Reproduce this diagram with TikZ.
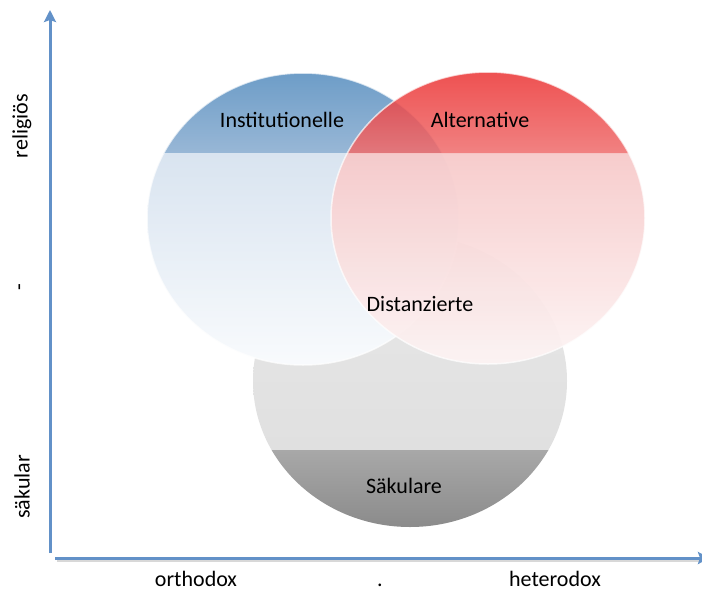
\documentclass[tikz,border=0pt]{standalone}
\usepackage{fontspec}
\setmainfont{Carlito}
\usetikzlibrary{arrows.meta}
\definecolor{axisblue}{RGB}{98,145,200}
\definecolor{blueA}{RGB}{108,156,199}
\definecolor{blueB}{RGB}{152,183,214}
\definecolor{blueC}{RGB}{217,228,240}
\definecolor{blueD}{RGB}{249,251,253}
\definecolor{redA}{RGB}{236,50,50}
\definecolor{redB}{RGB}{239,108,108}
\definecolor{redC}{RGB}{247,201,201}
\definecolor{redD}{RGB}{253,245,245}
\definecolor{grayA}{RGB}{232,232,232}
\definecolor{grayB}{RGB}{224,224,224}
\definecolor{grayC}{RGB}{168,168,168}
\definecolor{grayD}{RGB}{138,138,138}
\begin{document}
\begin{tikzpicture}[x=1pt,y=-1pt,
  lbl/.style={font=\fontsize{22}{26}\selectfont, inner sep=0pt, anchor=base},
  axis/.style={axisblue, line width=3pt, -{Stealth[length=12pt,width=12pt,inset=2pt]}},
  rim/.style={draw=white, line width=1.5pt, draw opacity=0.7}]
\useasboundingbox (0,0) rectangle (702,592);
\fill[white] (0,0) rectangle (702,592);

% gray circle (Saekulare)
\begin{scope}
  \clip (410,381) ellipse [x radius=157pt, y radius=146pt];
  \shade[top color=grayA, bottom color=grayB] (240,230) rectangle (580,450);
  \shade[top color=grayC, bottom color=grayD] (240,450) rectangle (580,530);
\end{scope}

% blue circle (Institutionelle)
\begin{scope}
  \clip (303,219) ellipse [x radius=156pt, y radius=146pt];
  \shade[top color=blueA, bottom color=blueB] (140,70) rectangle (470,153);
  \shade[top color=blueC, bottom color=blueD] (140,153) rectangle (470,368);
\end{scope}
\draw[rim] (303,219) ellipse [x radius=156pt, y radius=146pt];

% red circle (Alternative)
\begin{scope}
  \clip (488,218) ellipse [x radius=157pt, y radius=146pt];
  \shade[top color=redA, bottom color=redB, opacity=0.85] (325,70) rectangle (650,153);
  \shade[top color=redC, bottom color=redD, opacity=0.93] (325,153) rectangle (650,366);
\end{scope}
\draw[rim] (488,218) ellipse [x radius=157pt, y radius=146pt];

% circle labels
\node[lbl] (inst) at (282,127) {Institutionelle};
\node[lbl] (alt) at (480,127) {Alternative};
\node[lbl] (dist) at (420,311) {Distanzierte};
\node[lbl] (saek) at (404,493) {Säkulare};

% axes
\coordinate (ybot) at (50,553);
\coordinate (ytop) at (50,10);
\coordinate (xl) at (55,558);
\coordinate (xr) at (710,558);
\coordinate (sl) at (57,561);
\coordinate (sr) at (700,561);
\draw[gray, line width=2pt, opacity=0.3] (sl) -- (sr);
\draw[axis] (ybot) -- (ytop);
\draw[axis] (xl) -- (xr);

% axis labels
\node[lbl, rotate=90, anchor=center] (rel) at (22,126) {religiös};
\node[lbl, rotate=90, anchor=center] (mid) at (22,287) {-};
\node[lbl, rotate=90, anchor=center] (sak) at (22,487) {säkular};
\node[lbl] (orth) at (196,586) {orthodox};
\node[lbl] (dot) at (380,586) {.};
\node[lbl] (het) at (555,586) {heterodox};
\end{tikzpicture}
\end{document}
